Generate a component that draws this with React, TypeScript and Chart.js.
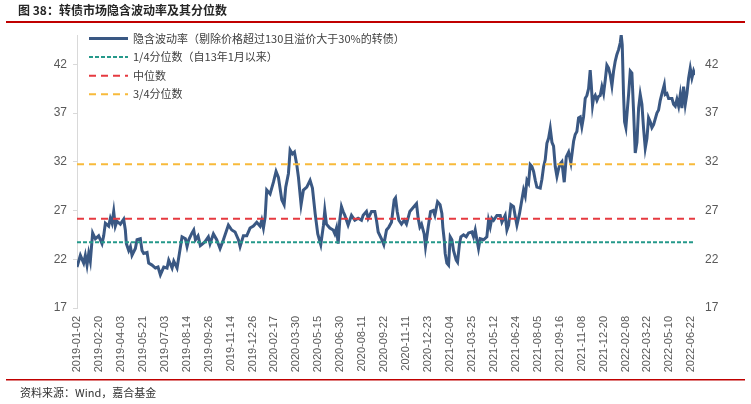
import React, { useEffect, useRef } from "react";
import { Chart, registerables } from "chart.js";

Chart.register(...registerables);

// ---------- data ----------
const titleText = "图 38：转债市场隐含波动率及其分位数";
const sourceText = "资料来源：Wind，嘉合基金";

const xTickLabels = [
  "2019-01-02", "2019-02-20", "2019-04-03", "2019-05-21", "2019-07-03",
  "2019-08-14", "2019-09-26", "2019-11-14", "2019-12-26", "2020-02-17",
  "2020-03-30", "2020-05-15", "2020-06-30", "2020-08-11", "2020-09-22",
  "2020-11-11", "2020-12-23", "2021-02-04", "2021-03-25", "2021-05-12",
  "2021-06-24", "2021-08-05", "2021-09-16", "2021-11-08", "2021-12-20",
  "2022-02-08", "2022-03-22", "2022-05-10", "2022-06-22",
];
const LABEL_STEP = 30; // trading days between axis labels
const LAST_DAY = 845;

// trading-day index (0 = 2019-01-02) of each reading
const volDays = [
  0, 4.6, 9.1, 11.4, 13.7, 16, 18.2, 21.4, 25.1, 29.6,
  34.2, 36.5, 38.8, 43.3, 45.6, 47.9, 50.2, 52.4, 54.7, 59.3,
  63.8, 66.1, 67.5, 70.7, 73, 75.2, 79.8, 82.1, 86.6, 88.9,
  91.2, 95.8, 98, 102.6, 107.2, 110.8, 114, 118.6, 123.1, 125.4,
  130, 132.3, 136.8, 140, 143.6, 148.2, 150.5, 152.8, 157.3, 159.6,
  161.9, 165.5, 168.7, 170.5, 175.1, 179.6, 181.9, 186.5, 191.0, 195.6,
  200.2, 204.7, 207.0, 211.6, 216.1, 220.7, 223.0, 227.5, 232.1, 236.6,
  241.2, 245.8, 250.3, 252.6, 254.9, 257.2, 259.4, 264.0, 268.6, 272.2,
  275.4, 280.0, 283.2, 285.4, 289.1, 291.4, 294.6, 297.3, 300.5, 302.8,
  306.4, 309.6, 314.2, 318.7, 321.9, 325.6, 329.2, 333.3, 337.0, 338.8,
  341.1, 345.7, 350.2, 352.5, 354.8, 357.1, 359.3, 361.6, 363.9, 366.2,
  370.7, 373.0, 375.3, 379.9, 384.4, 389.0, 391.3, 395.8, 398.1, 402.7,
  407.2, 409.5, 411.8, 416.3, 419.5, 423.2, 426.4, 430.0, 433.7, 435.5,
  437.8, 440.1, 443.7, 447.4, 450.5, 455.1, 459.7, 464.2, 466.5, 468.8,
  471.1, 474.7, 476.5, 480.2, 483.4, 487.0, 489.3, 493.0, 496.4, 498.9,
  500.2, 502.1, 503.4, 505.7, 508.0, 510.3, 512.6, 514.8, 518.5, 520.3,
  523.0, 524.9, 528.5, 532.2, 535.4, 539.9, 542.2, 544.5, 546.8, 549.0,
  551.3, 555.9, 560.4, 562.7, 565.0, 567.3, 569.6, 574.1, 578.7, 581.0,
  585.5, 587.8, 590.1, 593.3, 596.9, 599.2, 601.5, 605.1, 608.3, 610.6,
  612.9, 615.2, 617.4, 619.7, 622.0, 624.3, 626.6, 628.8, 633.4, 635.7,
  638.0, 640.2, 642.5, 644.8, 647.1, 649.4, 651.6, 653.9, 656.2, 658.5,
  660.8, 663.0, 666.2, 669.0, 672.2, 675.3, 679.0, 681.2, 683.5, 685.8,
  688.1, 690.3, 692.6, 694.9, 697.2, 699.5, 701.7, 703.1, 704.9, 706.3,
  708.6, 710.9, 713.1, 715.4, 717.7, 720.0, 722.3, 724.5, 726.8, 729.1,
  731.4, 733.7, 735.9, 738.2, 740.5, 742.8, 744.1, 745.5, 747.3, 748.7,
  750.5, 751.9, 754.2, 756.5, 758.7, 761.0, 763.3, 765.6, 767.9, 770.1,
  772.4, 774.7, 777.0, 779.3, 781.5, 783.8, 786.1, 788.4, 792.9, 795.2,
  797.5, 799.8, 803.0, 804.3, 806.6, 808.9, 813.5, 815.7, 818.0, 820.3,
  822.6, 824.9, 827.1, 829.4, 831.7, 834.0, 836.3, 838.5, 840.8, 843.1,
  845.0,
];

// implied volatility (%) at those days
const volValues = [
  21.2, 22.4, 21.6, 22.4, 21.4, 22.6, 21.8, 24.7, 24.1, 24.4,
  23.6, 24.4, 25.7, 25.4, 26.2, 25.7, 26.9, 25.4, 25.9, 25.6,
  26.1, 25.0, 23.6, 22.9, 23.3, 22.4, 23.1, 24.0, 24.1, 22.9,
  22.6, 22.7, 21.6, 21.4, 21.1, 21.2, 20.4, 21.2, 21.1, 21.9,
  21.1, 21.8, 21.1, 22.6, 24.3, 24.1, 23.3, 24.0, 24.7, 25.0,
  24.0, 24.4, 23.4, 23.5, 23.8, 24.3, 23.6, 24.6, 24.0, 23.1,
  24.0, 25.0, 25.5, 25.0, 24.8, 24.0, 23.3, 24.4, 24.4, 25.2,
  25.4, 25.8, 25.4, 26.0, 25.2, 26.3, 29.1, 28.7, 29.9, 31.0,
  30.4, 28.1, 27.6, 29.4, 30.8, 33.2, 32.8, 33.0, 31.7, 30.4,
  27.6, 29.1, 29.4, 30.1, 29.3, 26.7, 24.6, 23.5, 25.5, 27.0,
  25.6, 25.2, 25.0, 24.6, 25.2, 23.6, 26.0, 27.4, 26.9, 26.5,
  25.5, 26.0, 26.5, 26.0, 26.2, 26.0, 26.5, 26.9, 26.2, 26.9,
  26.9, 26.0, 24.8, 24.1, 23.5, 25.0, 25.3, 25.8, 28.1, 28.3,
  26.9, 26.0, 25.6, 26.0, 25.6, 26.9, 27.3, 27.7, 26.2, 25.3,
  25.6, 24.6, 23.3, 25.3, 26.9, 27.0, 26.5, 27.9, 27.6, 26.7,
  25.3, 24.0, 22.6, 21.6, 21.4, 24.3, 24.0, 22.9, 21.9, 21.7,
  23.6, 24.3, 24.5, 24.3, 24.7, 24.8, 24.3, 25.0, 24.0, 23.1,
  24.1, 24.0, 24.3, 26.0, 25.3, 26.2, 26.0, 26.5, 26.5, 25.8,
  26.5, 25.0, 25.5, 27.6, 27.4, 26.4, 25.5, 26.7, 28.1, 29.1,
  28.5, 30.1, 29.8, 31.7, 31.5, 31.0, 30.1, 29.4, 29.3, 30.2,
  31.5, 32.2, 33.9, 34.4, 35.4, 34.0, 33.6, 31.5, 30.5, 31.3,
  31.8, 32.0, 29.9, 32.5, 33.0, 31.9, 34.1, 34.8, 35.1, 36.5,
  36.6, 35.6, 36.6, 38.5, 38.8, 39.5, 41.4, 40.0, 37.8, 38.5,
  38.8, 38.3, 38.7, 38.8, 39.7, 39.0, 40.4, 41.9, 41.6, 40.9,
  39.8, 41.3, 42.3, 43.0, 43.5, 44.2, 45.0, 44.0, 38.9, 36.1,
  35.5, 36.8, 38.9, 41.3, 41.1, 37.2, 32.9, 34.0, 37.5, 38.9,
  37.9, 35.4, 33.4, 34.4, 36.5, 36.1, 35.5, 35.8, 37.0, 37.3,
  38.3, 39.0, 39.9, 38.9, 39.0, 38.5, 38.5, 37.9, 37.7, 38.4,
  37.7, 38.9, 37.5, 39.7, 37.9, 39.0, 40.6, 41.6, 40.6, 41.3,
  40.9,
];

const quartile1 = 23.75;
const medianVal = 26.15;
const quartile3 = 31.75;

const yTicks = [17, 22, 27, 32, 37, 42];
const Y_MIN = 17;
const Y_MAX = 45;

const seriesLabels = [
  "隐含波动率（剔除价格超过130且溢价大于30%的转债）",
  "1/4分位数（自13年1月以来）",
  "中位数",
  "3/4分位数",
];

// ---------- component ----------
const CJK = '"Noto Sans CJK SC", "Noto Sans", sans-serif';
const LATIN = 'Arial, "Liberation Sans", "Noto Sans CJK SC", sans-serif';

export default function App() {
  const canvasRef = useRef<HTMLCanvasElement | null>(null);

  useEffect(() => {
    document.body.style.margin = "0";
    const canvas = canvasRef.current;
    if (!canvas) return;

    const volPoints = volValues.map((v, i) => ({ x: volDays[i], y: v }));
    const flat = (v: number) => [
      { x: 0, y: v },
      { x: LAST_DAY, y: v },
    ];

    const decor = {
      id: "decor",
      afterDraw(chart: any) {
        const ctx = chart.ctx as CanvasRenderingContext2D;
        ctx.save();
        ctx.textBaseline = "middle";
        ctx.textAlign = "left";
        ctx.fillStyle = "#262626";
        ctx.font = `bold 12px ${CJK}`;
        ctx.fillText(titleText, 18, 10.5);
        ctx.fillStyle = "#C00000";
        ctx.fillRect(6, 21, 739, 2);
        ctx.fillRect(6, 379, 739, 1.5);
        ctx.fillStyle = "#333333";
        ctx.font = `11px ${CJK}`;
        ctx.fillText(sourceText, 20, 392.5);
        chart.data.datasets.forEach((ds: any, i: number) => {
          const y = 38.5 + i * 18.6;
          ctx.beginPath();
          ctx.setLineDash(ds.borderDash || []);
          ctx.lineWidth = ds.borderWidth;
          ctx.strokeStyle = ds.borderColor;
          ctx.moveTo(89, y);
          ctx.lineTo(128, y);
          ctx.stroke();
          ctx.setLineDash([]);
          ctx.fillStyle = "#404040";
          ctx.font = `11px ${CJK}`;
          ctx.fillText(ds.label, 133, y);
        });
        ctx.restore();
      },
    };

    const chart = new Chart(canvas, {
      type: "line",
      data: {
        datasets: [
          {
            label: seriesLabels[0],
            data: volPoints,
            borderColor: "#3A5883",
            borderWidth: 3,
            pointRadius: 0,
            tension: 0,
            order: 10,
          },
          {
            label: seriesLabels[1],
            data: flat(quartile1),
            borderColor: "#25998A",
            borderWidth: 2,
            borderDash: [4, 2],
            pointRadius: 0,
            order: 1,
          },
          {
            label: seriesLabels[2],
            data: flat(medianVal),
            borderColor: "#E63A40",
            borderWidth: 2,
            borderDash: [7, 5],
            pointRadius: 0,
            order: 2,
          },
          {
            label: seriesLabels[3],
            data: flat(quartile3),
            borderColor: "#F8BA3B",
            borderWidth: 2,
            borderDash: [7, 5],
            pointRadius: 0,
            order: 3,
          },
        ],
      },
      options: {
        responsive: false,
        animation: false,
        devicePixelRatio: 1,
        layout: { padding: { top: 35, left: 0, right: 0, bottom: 0 } },
        plugins: {
          legend: { display: false },
          tooltip: { enabled: false },
        },
        scales: {
          x: {
            type: "linear",
            min: 0,
            max: LAST_DAY,
            grid: { display: false, drawTicks: false },
            border: { display: false },
            afterBuildTicks: (scale: any) => {
              scale.ticks = xTickLabels.map((_, i) => ({ value: i * LABEL_STEP }));
            },
            afterFit: (scale: any) => {
              scale.height = 96;
            },
            ticks: {
              autoSkip: false,
              minRotation: 90,
              maxRotation: 90,
              padding: 8,
              color: "#595959",
              font: { family: LATIN, size: 11 },
              callback: (value: any) => xTickLabels[Math.round(Number(value) / LABEL_STEP)],
            },
          },
          y: {
            type: "linear",
            position: "left",
            min: Y_MIN,
            max: Y_MAX,
            grid: {
              display: true,
              drawOnChartArea: false,
              drawTicks: true,
              tickLength: 4,
              color: "#D9D9D9",
            },
            border: { display: true, color: "#D9D9D9", width: 1 },
            afterBuildTicks: (scale: any) => {
              scale.ticks = yTicks.map((v) => ({ value: v }));
            },
            afterFit: (scale: any) => {
              scale.width = 77;
            },
            ticks: {
              padding: 6,
              color: "#595959",
              font: { family: LATIN, size: 12 },
            },
          },
          y2: {
            type: "linear",
            position: "right",
            min: Y_MIN,
            max: Y_MAX,
            grid: { display: false, drawTicks: false },
            border: { display: false },
            afterBuildTicks: (scale: any) => {
              scale.ticks = yTicks.map((v) => ({ value: v }));
            },
            afterFit: (scale: any) => {
              scale.width = 56;
            },
            ticks: {
              padding: 10,
              color: "#595959",
              font: { family: LATIN, size: 12 },
            },
          },
        },
      },
      plugins: [decor],
    } as any);

    return () => {
      chart.destroy();
    };
  }, []);

  return (
    <div style={{ width: 751, height: 404, background: "#fff" }}>
      <canvas ref={canvasRef} width={751} height={404} style={{ display: "block" }} />
    </div>
  );
}
